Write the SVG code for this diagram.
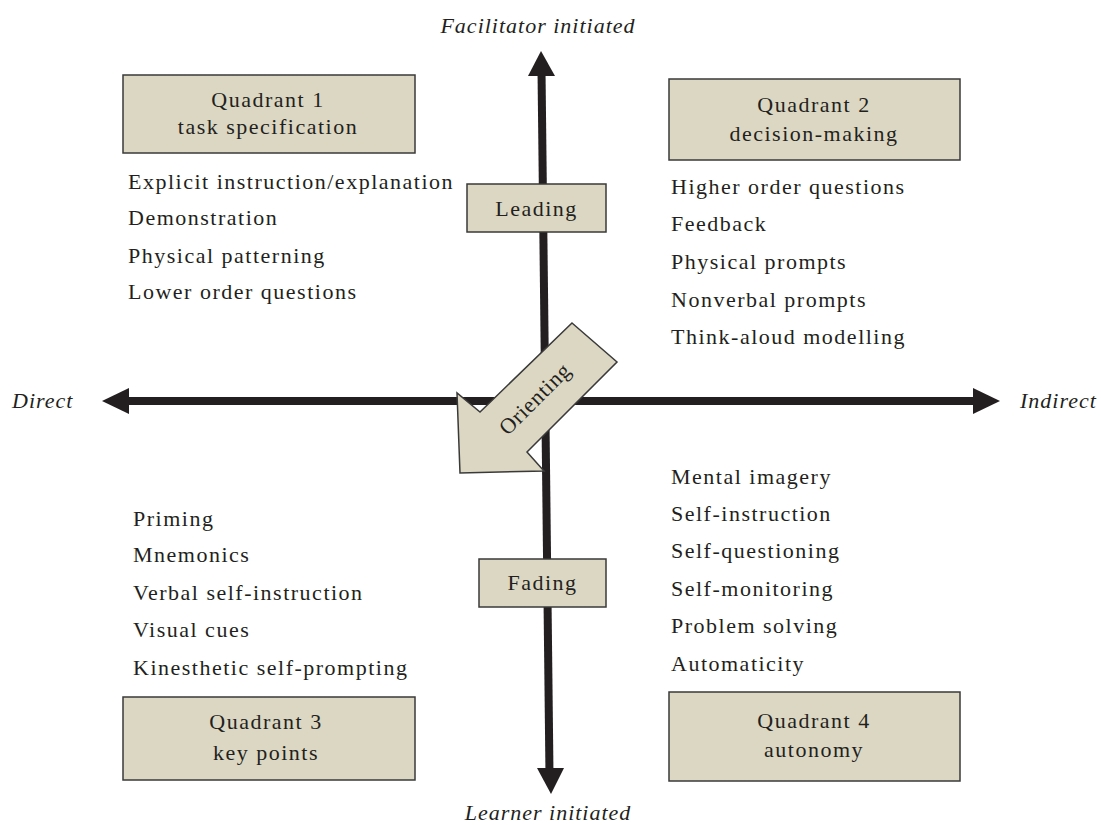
<svg xmlns="http://www.w3.org/2000/svg" width="1101" height="825" viewBox="0 0 1101 825">
  <style>
    text { font-family: "Liberation Serif", "DejaVu Serif", serif; fill: #231f20; }
    .item { font-size: 22px; letter-spacing: 1.5px; }
    .head { font-size: 22px; letter-spacing: 1.5px; text-anchor: middle; }
    .axis { font-size: 22px; letter-spacing: 1px; font-style: italic; }
    .box { fill: #dcd7c3; stroke: #3a3a3a; stroke-width: 1.5; }
    .axisline { stroke: #231f20; stroke-width: 8; fill: none; }
    .tip { fill: #231f20; }
  </style>
  <rect width="1101" height="825" fill="#ffffff"/>

  <!-- axes -->
  <g id="connectors">
    <line class="axisline" x1="541.5" y1="70" x2="549.5" y2="775"/>
    <polygon class="tip" points="541,51 528,76 555,76"/>
    <polygon class="tip" points="551,794 537,768 564,768"/>
    <line class="axisline" x1="120" y1="401" x2="982" y2="401"/>
    <polygon class="tip" points="102,401 129,388 129,414"/>
    <polygon class="tip" points="1000,401 973,388 973,414"/>
  </g>

  <!-- axis labels -->
  <g id="axis-labels">
    <text class="axis" x="538" y="33" text-anchor="middle">Facilitator initiated</text>
    <text class="axis" x="548" y="820" text-anchor="middle">Learner initiated</text>
    <text class="axis" x="12" y="408">Direct</text>
    <text class="axis" x="1020" y="408">Indirect</text>
  </g>

  <!-- phase labels on the vertical axis -->
  <g id="leading">
    <rect class="box" x="467" y="184" width="139" height="48"/>
    <text class="head" x="536.5" y="216">Leading</text>
  </g>
  <g id="fading">
    <rect class="box" x="479" y="559" width="127" height="48"/>
    <text class="head" x="542.5" y="590">Fading</text>
  </g>

  <!-- orienting arrow -->
  <g id="orienting">
    <polygon class="box" points="572,323 617,362 527,452 544,471 460,473 457,393 480,412"/>
    <text class="head" x="0" y="0" transform="translate(540,404) rotate(-45)" style="font-size:22px;letter-spacing:0.8px">Orienting</text>
  </g>

  <!-- quadrant 1 -->
  <g id="quadrant1">
    <rect class="box" x="123" y="75" width="292" height="78"/>
    <text class="head" x="268" y="107">Quadrant 1</text>
    <text class="head" x="268" y="134">task specification</text>
    <text class="item" x="128" y="189">Explicit instruction/explanation</text>
    <text class="item" x="128" y="225">Demonstration</text>
    <text class="item" x="128" y="263">Physical patterning</text>
    <text class="item" x="128" y="299">Lower order questions</text>
  </g>

  <!-- quadrant 2 -->
  <g id="quadrant2">
    <rect class="box" x="669" y="79" width="291" height="81"/>
    <text class="head" x="814" y="112">Quadrant 2</text>
    <text class="head" x="814" y="141">decision-making</text>
    <text class="item" x="671" y="194">Higher order questions</text>
    <text class="item" x="671" y="231">Feedback</text>
    <text class="item" x="671" y="269">Physical prompts</text>
    <text class="item" x="671" y="307">Nonverbal prompts</text>
    <text class="item" x="671" y="344">Think-aloud modelling</text>
  </g>

  <!-- quadrant 3 -->
  <g id="quadrant3">
    <rect class="box" x="123" y="697" width="292" height="83"/>
    <text class="head" x="266" y="729">Quadrant 3</text>
    <text class="head" x="266" y="760">key points</text>
    <text class="item" x="133" y="526">Priming</text>
    <text class="item" x="133" y="562">Mnemonics</text>
    <text class="item" x="133" y="600">Verbal self-instruction</text>
    <text class="item" x="133" y="637">Visual cues</text>
    <text class="item" x="133" y="675">Kinesthetic self-prompting</text>
  </g>

  <!-- quadrant 4 -->
  <g id="quadrant4">
    <rect class="box" x="669" y="692" width="291" height="89"/>
    <text class="head" x="814" y="728">Quadrant 4</text>
    <text class="head" x="814" y="757">autonomy</text>
    <text class="item" x="671" y="484">Mental imagery</text>
    <text class="item" x="671" y="521">Self-instruction</text>
    <text class="item" x="671" y="558">Self-questioning</text>
    <text class="item" x="671" y="596">Self-monitoring</text>
    <text class="item" x="671" y="633">Problem solving</text>
    <text class="item" x="671" y="671">Automaticity</text>
  </g>
</svg>
